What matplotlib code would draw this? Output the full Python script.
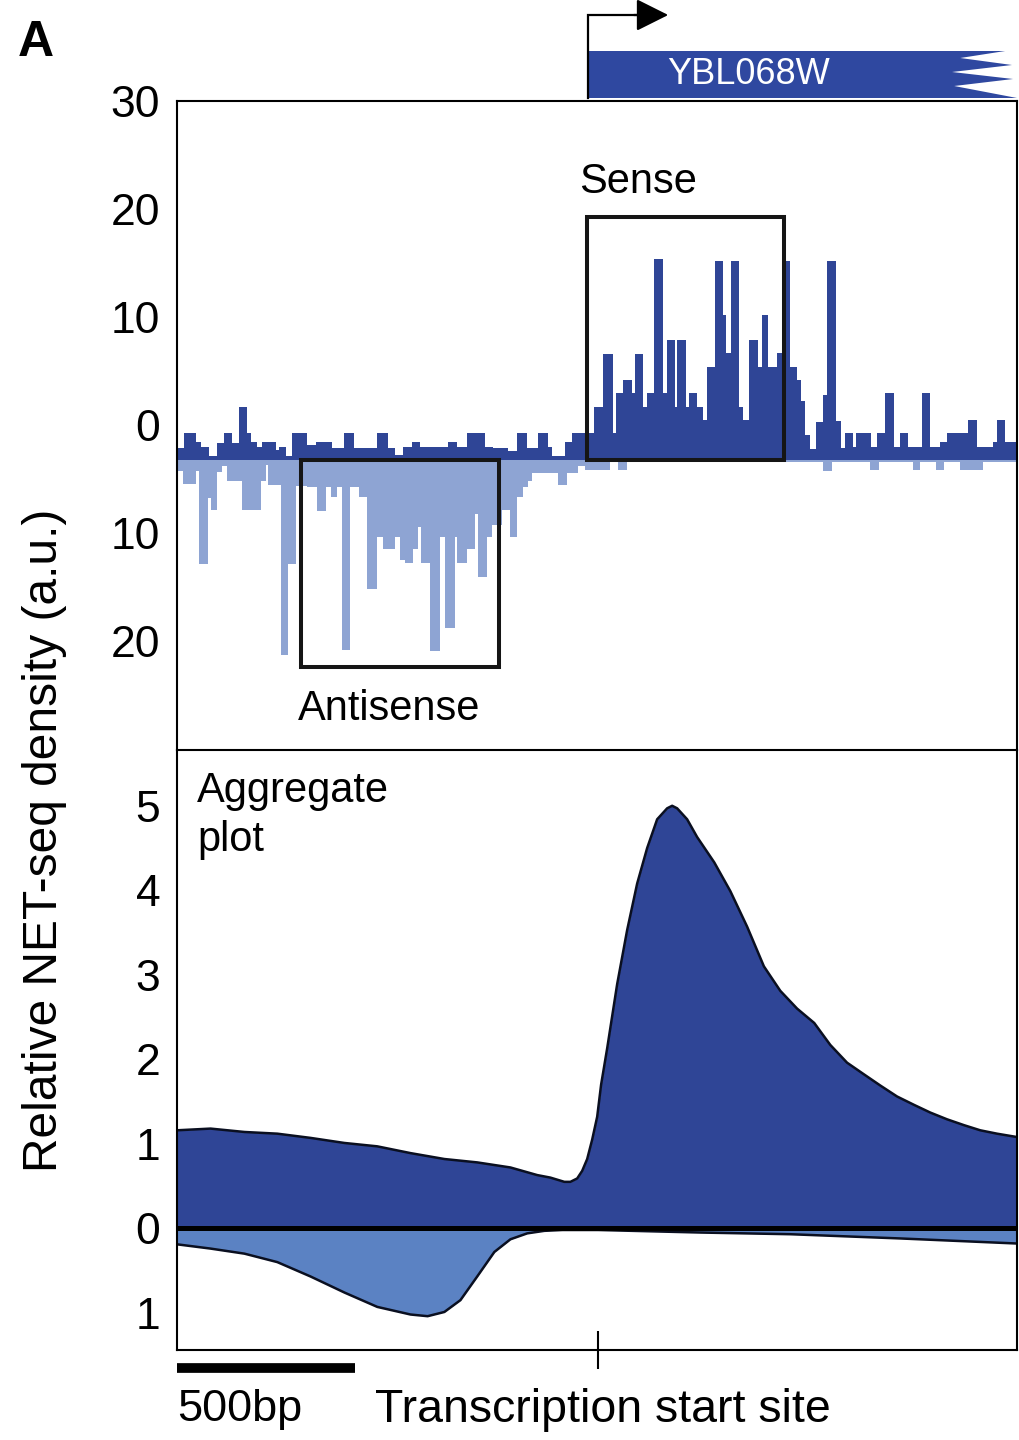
import matplotlib
matplotlib.use('Agg')
import matplotlib.pyplot as plt
import matplotlib.transforms as mtransforms
from matplotlib.patches import Rectangle, Polygon
import numpy as np

plt.rcParams['font.family'] = ['Liberation Sans', 'DejaVu Sans']

DARK = '#2f4596'
LIGHT_BAR = '#8ea4d3'
LIGHT_FILL = '#5b82c3'

# position in bp relative to the transcription start site
x_range = (-1180, 1173)

# single gene (YBL068W) NET-seq, sense strand: step edges (bp) and heights (a.u.)
sense_edges = [-1179, -1159, -1128, -1114, -1089, -1067, -1047, -1025, -1005, -983,
               -972, -955, -941, -904, -893, -876, -857, -815, -792, -745,
               -711, -683, -619, -588, -568, -546, -521, -498, -420, -395,
               -367, -316, -294, -252, -227, -199, -168, -140, -129, -92,
               -73, -11, 14, 42, 50, 70, 95, 104, 126, 137,
               157, 182, 193, 216, 221, 246, 255, 277, 294, 305,
               328, 350, 358, 372, 395, 406, 423, 448, 459, 476,
               501, 518, 538, 557, 568, 580, 594, 610, 630, 641,
               666, 680, 692, 714, 722, 764, 781, 804, 829, 846,
               868, 907, 930, 958, 977, 1036, 1061, 1106, 1117, 1140, 1173]
sense_vals = [1.1, 2.5, 1.7, 1.2, 0.4, 1.6, 2.5, 1.6, 4.9, 2.5,
              1.7, 1.2, 1.7, 0.9, 1.2, 0.4, 2.5, 1.4, 1.7, 1.1,
              2.5, 1.1, 2.5, 1.1, 0.5, 1.2, 1.7, 1.2, 1.7, 1.2,
              2.5, 1.2, 1.1, 0.8, 2.5, 1.1, 2.5, 1.2, 0.4, 1.7,
              2.5, 4.9, 9.8, 2.5, 6.2, 7.4, 6.2, 9.8, 4.9, 6.2,
              18.6, 6.2, 11.1, 4.9, 11.1, 4.9, 6.2, 4.9, 3.7, 8.6,
              18.4, 13.4, 9.9, 18.4, 4.9, 3.7, 11.1, 8.6, 13.4, 8.6,
              9.9, 18.4, 8.6, 7.4, 5.5, 2.3, 1.0, 3.5, 6.0, 18.4,
              3.6, 1.1, 2.5, 1.2, 2.5, 1.2, 2.5, 6.2, 1.2, 2.5,
              1.2, 6.2, 1.2, 1.7, 2.5, 3.7, 1.2, 1.7, 3.7, 1.7]

# antisense strand (drawn downwards)
anti_edges = [-1179, -1162, -1126, -1117, -1092, -1086, -1067, -1053, -1039, -997,
              -946, -932, -924, -890, -868, -848, -815, -787, -764, -750,
              -731, -717, -694, -669, -647, -619, -602, -568, -554, -540,
              -518, -504, -496, -470, -442, -428, -400, -395, -367, -344,
              -336, -311, -297, -269, -246, -227, -210, -196, -185, -112,
              -87, -56, -36, 34, 56, 81, 630, 655, 762, 787,
              882, 902, 946, 969, 1014, 1078, 1173]
anti_vals = [1.0, 2.2, 1.0, 9.6, 3.5, 4.6, 1.1, 0.6, 1.9, 4.6,
             1.9, 0.5, 2.3, 18.1, 9.6, 2.4, 2.5, 4.7, 2.5, 3.4,
             2.5, 17.6, 2.5, 3.4, 11.9, 7.1, 8.2, 7.1, 9.3, 9.5,
             8.2, 6.2, 9.5, 17.7, 7.1, 15.6, 7.1, 9.5, 8.2, 5.0,
             10.8, 7.1, 6.0, 4.6, 7.1, 3.4, 2.5, 1.9, 1.2, 2.3,
             1.2, 0.6, 0.9, 0.2, 0.9, 0.15, 1.0, 0.15, 0.9, 0.15,
             0.9, 0.15, 0.9, 0.15, 0.9, 0.15]

# highlighted windows (start bp, end bp, height)
sense_window = (-31, 521, 22.5)
anti_window = (-832, -277, -19.2)

# aggregate plot over all genes
agg_sense_x = [-1179, -1086, -991, -899, -806, -711, -619, -526, -431, -339,
               -246, -171, -134, -95, -78, -59, -45, -31, -17, -3,
               8, 25, 53, 81, 109, 137, 165, 193, 207, 221,
               249, 277, 325, 370, 417, 464, 510, 557, 605, 650,
               697, 745, 790, 837, 885, 930, 977, 1025, 1070, 1117, 1173]
agg_sense = [1.16, 1.18, 1.14, 1.12, 1.07, 1.01, 0.97, 0.89, 0.82, 0.78,
             0.72, 0.63, 0.60, 0.55, 0.55, 0.59, 0.68, 0.82, 1.05, 1.32,
             1.70, 2.13, 2.89, 3.53, 4.08, 4.50, 4.84, 4.97, 5.00, 4.97,
             4.84, 4.63, 4.33, 3.99, 3.57, 3.10, 2.81, 2.60, 2.43, 2.17,
             1.96, 1.82, 1.69, 1.56, 1.46, 1.37, 1.29, 1.22, 1.16, 1.12, 1.08]
agg_anti_x = [-1179, -1086, -991, -899, -806, -711, -619, -526, -478, -431,
              -386, -339, -291, -246, -199, -151, -100, 0, 286, 538, 846, 1173]
agg_anti = [-0.19, -0.24, -0.30, -0.40, -0.57, -0.76, -0.93, -1.02, -1.04, -0.99,
            -0.85, -0.57, -0.28, -0.13, -0.06, -0.03, -0.02, -0.02, -0.05, -0.07, -0.12, -0.18]

top_ticks = [30, 20, 10, 0, -10, -20]
bottom_ticks = [5, 4, 3, 2, 1, 0, -1]

gene_name = 'YBL068W'
gene_start = -30

W, H = 1020, 1440
fig = plt.figure(figsize=(W / 100, H / 100), dpi=100)

def frac(x0, y0, x1, y1):
    return [x0 / W, 1 - y1 / H, (x1 - x0) / W, (y1 - y0) / H]

ax_gene = fig.add_axes(frac(177, 0, 1017, 101))
ax1 = fig.add_axes(frac(177, 101, 1017, 750))
ax2 = fig.add_axes(frac(177, 750, 1017, 1350))

# ---- gene model ----
ax_gene.set_xlim(*x_range)
ax_gene.set_ylim(101, 0)
ax_gene.axis('off')
saw = [(gene_start, 51), (1140, 51), (1014, 58), (1159, 65), (991, 72),
       (1162, 79), (997, 86), (1173, 98), (gene_start, 98)]
ax_gene.add_patch(Polygon(saw, closed=True, facecolor='#2f48a0', edgecolor='none', clip_on=False))
ax_gene.text(420, 75, gene_name, color='white', fontsize=26, ha='center', va='center')
ax_gene.plot([gene_start, gene_start, 120], [98, 15, 15], color='black', lw=1.6,
             solid_joinstyle='miter', clip_on=False)
ax_gene.annotate('', xy=(196, 15), xytext=(100, 15),
                 arrowprops=dict(arrowstyle='-|>,head_length=0.8,head_width=0.4',
                                 mutation_scale=25, color='black', lw=1.6,
                                 shrinkA=0, shrinkB=0), annotation_clip=False)

# ---- single gene panel ----
ax1.stairs(-np.array(anti_vals), anti_edges, baseline=0, fill=True, color=LIGHT_BAR, lw=0)
ax1.stairs(sense_vals, sense_edges, baseline=0, fill=True, color=DARK, lw=0)
ax1.set_xlim(*x_range)
ax1.set_ylim(-26.85, 33.24)

s0, s1, sh = sense_window
ax1.add_patch(Rectangle((s0, 0), s1 - s0, sh, fill=False, ec='#151515', lw=2.9, zorder=5))
a0, a1, ah = anti_window
ax1.add_patch(Rectangle((a0, ah), a1 - a0, -ah, fill=False, ec='#151515', lw=2.9, zorder=5))
ax1.text(112, 25.7, 'Sense', fontsize=30, ha='center', va='center')
ax1.text(-585, -23.1, 'Antisense', fontsize=30, ha='center', va='center')

ax1.set_yticks(top_ticks)
ax1.set_yticklabels([str(abs(t)) for t in top_ticks])
ax1.set_xticks([])
ax1.tick_params(axis='y', length=0, pad=12, labelsize=32)
shift = mtransforms.ScaledTranslation(0, 35 / 100, fig.dpi_scale_trans)
for lab in ax1.get_yticklabels():
    lab.set_transform(lab.get_transform() + shift)
ax1.spines['bottom'].set_visible(False)
for s in ['top', 'left', 'right']:
    ax1.spines[s].set_linewidth(1.5)

# ---- aggregate panel ----
ax2.fill_between(agg_anti_x, agg_anti, 0, color=LIGHT_FILL, lw=0)
ax2.plot(agg_anti_x, agg_anti, color='#0a0f20', lw=1.8)
ax2.fill_between(agg_sense_x, agg_sense, 0, color=DARK, lw=0)
ax2.plot(agg_sense_x, agg_sense, color='#0a0f20', lw=1.8)
ax2.axhline(0, color='black', lw=3.6)
ax2.set_xlim(*x_range)
ax2.set_ylim(-1.44, 5.66)
ax2.set_yticks(bottom_ticks)
ax2.set_yticklabels([str(abs(t)) for t in bottom_ticks])
ax2.tick_params(axis='y', length=0, pad=12, labelsize=32)
ax2.set_xticks([0])
ax2.set_xticklabels([])
ax2.tick_params(axis='x', direction='inout', length=27, width=1.5)
for s in ax2.spines.values():
    s.set_linewidth(1.5)
ax2.text(0.024, 0.965, 'Aggregate\nplot', transform=ax2.transAxes, fontsize=30,
         ha='left', va='top', linespacing=1.3)

# 500 bp scale bar
bt = mtransforms.blended_transform_factory(ax2.transData, ax2.transAxes)
ax2.plot([x_range[0], x_range[0] + 500], [-0.03, -0.03], transform=bt, color='black',
         lw=7, solid_capstyle='butt', clip_on=False)

fig.text(177 / W, 1 - 1410 / H, '500bp', fontsize=32.5, ha='left', va='center')
fig.text(375 / W, 1 - 1410 / H, 'Transcription start site', fontsize=33.5, ha='left', va='center')
fig.text(45 / W, 1 - 840 / H, 'Relative NET-seq density (a.u.)', fontsize=34.5,
         rotation=90, ha='center', va='center')
fig.text(36 / W, 1 - 43 / H, 'A', fontsize=36, fontweight='bold', ha='center', va='center')

fig.savefig('out.png', dpi=100)
plt.close('all')
